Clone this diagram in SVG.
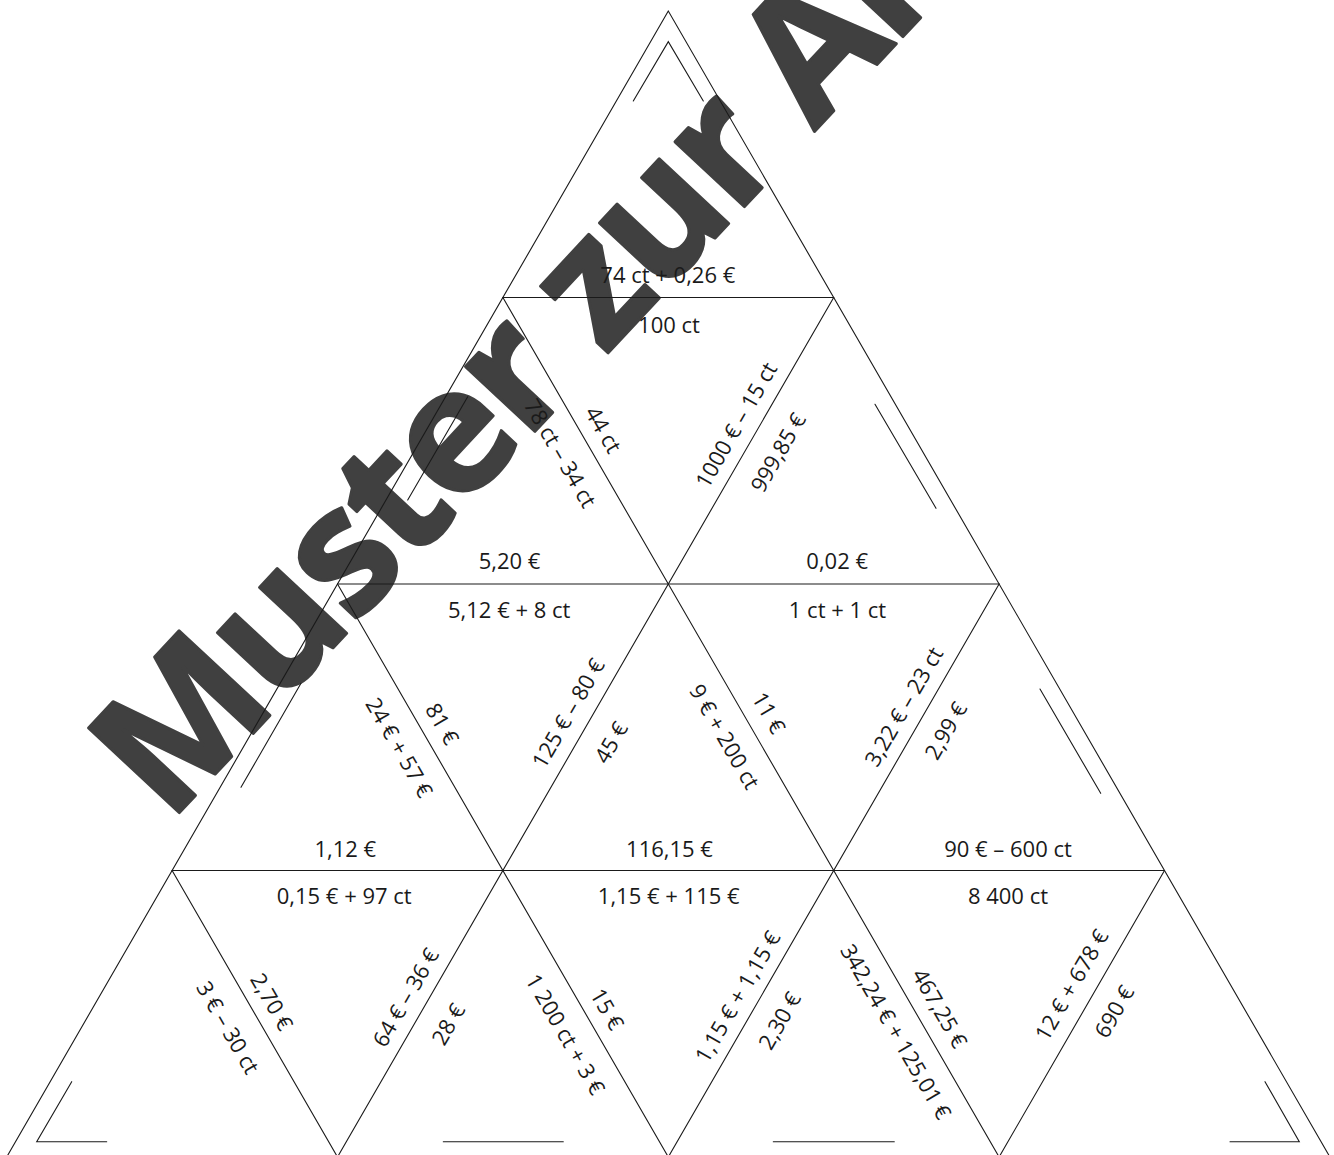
<svg xmlns="http://www.w3.org/2000/svg" width="1334" height="1155" viewBox="0 0 1334 1155">
<style>
.ln{stroke:#1a1a1a;stroke-width:1.1;fill:none;stroke-linecap:round;stroke-linejoin:miter}
.t{font-family:"Open Sans","Liberation Sans",sans-serif;font-size:22px;fill:#1a1a1a;text-anchor:middle}
.wm{font-family:"Open Sans","Liberation Sans",sans-serif;font-weight:700;font-size:174px;letter-spacing:-4px;fill:#404040;stroke:#404040;stroke-width:3;stroke-linejoin:round}
</style>
<rect width="1334" height="1155" fill="#ffffff"/>
<g id="watermark">
<text class="wm" transform="translate(168.8,824) rotate(-47)">Muster zur Ansicht</text>
</g>
<g id="connectors">
<polygon class="ln" points="668.3,11 6.7,1157 1329.9,1157"/>
<line class="ln" x1="502.9" y1="297.5" x2="833.7" y2="297.5"/>
<line class="ln" x1="337.5" y1="584" x2="999.1" y2="584"/>
<line class="ln" x1="172.1" y1="870.5" x2="1164.5" y2="870.5"/>
<line class="ln" x1="337.5" y1="1157" x2="833.7" y2="297.5"/>
<line class="ln" x1="668.3" y1="1157" x2="999.1" y2="584"/>
<line class="ln" x1="999.1" y1="1157" x2="1164.5" y2="870.5"/>
<line class="ln" x1="999.1" y1="1157" x2="502.9" y2="297.5"/>
<line class="ln" x1="668.3" y1="1157" x2="337.5" y2="584"/>
<line class="ln" x1="337.5" y1="1157" x2="172.1" y2="870.5"/>
</g>
<g id="piece-r1-top">
<polyline class="ln" points="633.3,101 668.3,41.7 703.3,101"/>
<text class="t" x="667.8" y="283.3">74 ct + 0,26 €</text>
</g>
<g id="piece-r2-left">
<line class="ln" x1="407.7" y1="500" x2="467.7" y2="396.7"/>
<text class="t" transform="translate(560.3,453.3) rotate(60)" y="7.8">78 ct – 34 ct</text>
<text class="t" x="509.5" y="569.3">5,20 €</text>
</g>
<g id="piece-r2-center">
<text class="t" x="669" y="332.7">100 ct</text>
<text class="t" transform="translate(603.3,429.7) rotate(60)" y="7.8">44 ct</text>
<text class="t" transform="translate(736.2,425) rotate(-60)" y="7.8">1000 € – 15 ct</text>
</g>
<g id="piece-r2-right">
<line class="ln" x1="875" y1="404.3" x2="936" y2="508.3"/>
<text class="t" transform="translate(778.2,452.5) rotate(-60)" y="7.8">999,85 €</text>
<text class="t" x="837.2" y="569.3">0,02 €</text>
</g>
<g id="piece-r3-left">
<line class="ln" x1="301" y1="683.3" x2="241" y2="787.3"/>
<text class="t" transform="translate(399.2,747.5) rotate(60)" y="7.8">24 € + 57 €</text>
<text class="t" x="345.3" y="856.7">1,12 €</text>
</g>
<g id="piece-r3-down1">
<text class="t" x="509.2" y="617.7">5,12 € + 8 ct</text>
<text class="t" transform="translate(442.2,723.8) rotate(60)" y="7.8">81 €</text>
<text class="t" transform="translate(568.3,713.3) rotate(-60)" y="7.8">125 € – 80 €</text>
</g>
<g id="piece-r3-middle">
<text class="t" transform="translate(611.2,742.5) rotate(-60)" y="7.8">45 €</text>
<text class="t" transform="translate(724.5,736.7) rotate(60)" y="7.8">9 € + 200 ct</text>
<text class="t" x="669.5" y="856.7">116,15 €</text>
</g>
<g id="piece-r3-down2">
<text class="t" x="837.5" y="617.7">1 ct + 1 ct</text>
<text class="t" transform="translate(768.8,712.8) rotate(60)" y="7.8">11 €</text>
<text class="t" transform="translate(903.8,706.7) rotate(-60)" y="7.8">3,22 € – 23 ct</text>
</g>
<g id="piece-r3-right">
<line class="ln" x1="1040" y1="689" x2="1100.7" y2="793.3"/>
<text class="t" transform="translate(945.8,730.8) rotate(-60)" y="7.8">2,99 €</text>
<text class="t" x="1008" y="856.7">90 € – 600 ct</text>
</g>
<g id="piece-r4-left">
<polyline class="ln" points="71.7,1081.7 36.7,1141.7 106.7,1141.7"/>
<text class="t" transform="translate(227.8,1027.5) rotate(60)" y="7.8">3 € – 30 ct</text>
</g>
<g id="piece-r4-down1">
<text class="t" x="344.2" y="904.3">0,15 € + 97 ct</text>
<text class="t" transform="translate(271.7,1001.7) rotate(60)" y="7.8">2,70 €</text>
<text class="t" transform="translate(405.8,997.5) rotate(-60)" y="7.8">64 € – 36 €</text>
</g>
<g id="piece-r4-up2">
<line class="ln" x1="443.3" y1="1141.7" x2="563.3" y2="1141.7"/>
<text class="t" transform="translate(448.3,1024.2) rotate(-60)" y="7.8">28 €</text>
<text class="t" transform="translate(565.3,1034.2) rotate(60)" y="7.8">1 200 ct + 3 €</text>
</g>
<g id="piece-r4-down3">
<text class="t" x="668.7" y="904.3">1,15 € + 115 €</text>
<text class="t" transform="translate(607.2,1009.2) rotate(60)" y="7.8">15 €</text>
<text class="t" transform="translate(737.7,996.7) rotate(-60)" y="7.8">1,15 € + 1,15 €</text>
</g>
<g id="piece-r4-up4">
<line class="ln" x1="773.3" y1="1141.7" x2="894.3" y2="1141.7"/>
<text class="t" transform="translate(779.7,1020.8) rotate(-60)" y="7.8">2,30 €</text>
<text class="t" transform="translate(895.8,1031.7) rotate(60)" y="7.8">342,24 € + 125,01 €</text>
</g>
<g id="piece-r4-down5">
<text class="t" x="1008" y="904.3">8 400 ct</text>
<text class="t" transform="translate(939.7,1008.3) rotate(60)" y="7.8">467,25 €</text>
<text class="t" transform="translate(1071.7,985) rotate(-60)" y="7.8">12 € + 678 €</text>
</g>
<g id="piece-r4-right">
<polyline class="ln" points="1265,1081.7 1299.3,1141.7 1230,1141.7"/>
<text class="t" transform="translate(1114.2,1011.7) rotate(-60)" y="7.8">690 €</text>
</g>
</svg>
